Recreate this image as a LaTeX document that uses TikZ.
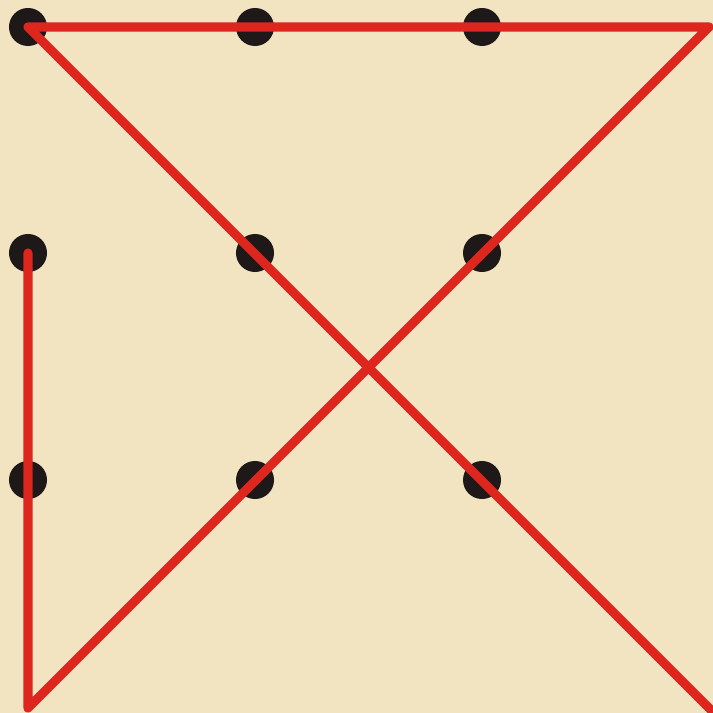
\documentclass[tikz,border=0pt]{standalone}
\usepackage{tikz}
\usetikzlibrary{calc}
\definecolor{PaperTan}{RGB}{242,227,193}
\definecolor{PuzzleRed}{RGB}{221,38,30}
\definecolor{DotBlack}{RGB}{30,24,24}
\tikzset{puzdot/.style={circle,fill=DotBlack,inner sep=0pt,minimum size=3.8mm}}
\begin{document}
\begin{tikzpicture}[x=.01cm,y=-.01cm]
\fill[PaperTan] (0,0) rectangle (713,713);
\useasboundingbox (0,0) rectangle (713,713);
\foreach \c/\x in {1/28,2/255,3/482}{\foreach \r/\y in {1/27,2/253,3/480}{\node[puzdot] (d\r\c) at (\x,\y){};}}
\coordinate (BL) at (28,708);\coordinate (TR) at (709,27);\coordinate (BR) at (716,715);
\draw[PuzzleRed,line width=2.6pt,line cap=round,line join=round] (d21.center)--(BL)--(TR)--(d11.center)--(BR);
\end{tikzpicture}
\end{document}
